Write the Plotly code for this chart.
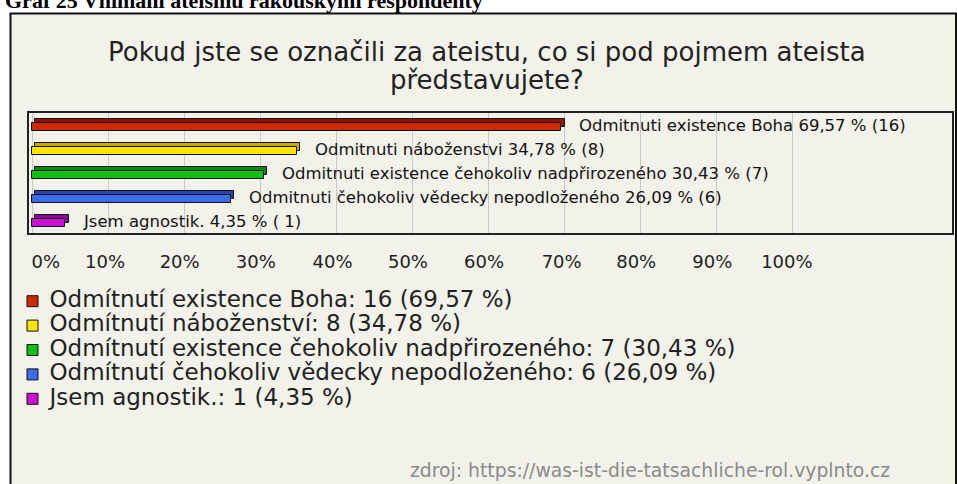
import plotly.graph_objects as go

W, H = 957, 484

categories = ["boha", "nabozenstvi", "nadprirozeneho", "vedecky", "agnostik"]
values = [69.57, 34.78, 30.43, 26.09, 4.35]
counts = [16, 8, 7, 6, 1]
bar_labels = [
    "Odmitnuti existence Boha 69,57 % (16)",
    "Odmitnuti náboženstvi 34,78 % (8)",
    "Odmitnuti existence čehokoliv nadpřirozeného 30,43 % (7)",
    "Odmitnuti čehokoliv vědecky nepodloženého 26,09 % (6)",
    "Jsem agnostik. 4,35 % ( 1)",
]
legend_names = [
    "Odmítnutí existence Boha: 16 (69,57 %)",
    "Odmítnutí náboženství: 8 (34,78 %)",
    "Odmítnutí existence čehokoliv nadpřirozeného: 7 (30,43 %)",
    "Odmítnutí čehokoliv vědecky nepodloženého: 6 (26,09 %)",
    "Jsem agnostik.: 1 (4,35 %)",
]
front_colors = ["#d02800", "#ffe400", "#10c010", "#3c6cee", "#cc10d4"]
top_colors = ["#8a1800", "#c8ac00", "#088a08", "#2446a8", "#880a90"]
grid_vals = [0, 10, 20, 30, 40, 50, 60, 70, 80, 90, 100]
tick_texts = ["0%", "10%", "20%", "30%", "40%", "50%", "60%", "70%", "80%", "90%", "100%"]
tick_label_pos = [1.8, 9.6, 19.4, 29.4, 39.5, 49.4, 59.4, 69.6, 79.4, 89.4, 99.2]

title_lines = ["Pokud jste se označili za ateistu, co si pod pojmem ateista", "představujete?"]
heading = "Graf 25 Vnímání ateismu rakouskými respondenty"
source = "zdroj: https://was-ist-die-tatsachliche-rol.vyplnto.cz"

FONT = "DejaVu Sans, Verdana, Arial"

def px(x):
    return x / W

def py(y):
    return 1 - y / H

fig = go.Figure()

# 3D top faces (back bars)
for i, c in enumerate(categories):
    fig.add_trace(go.Bar(
        y=[c], x=[values[i]], base=0.45, orientation="h",
        width=0.34, offset=-0.25,
        marker=dict(color=top_colors[i], line=dict(color="#111", width=1)),
        showlegend=False, hoverinfo="skip", xaxis="x", yaxis="y",
    ))
# front faces
for i, c in enumerate(categories):
    fig.add_trace(go.Bar(
        y=[c], x=[values[i]], orientation="h",
        width=0.34, offset=-0.09,
        marker=dict(color=front_colors[i], line=dict(color="#111", width=1)),
        name=legend_names[i], showlegend=False, xaxis="x", yaxis="y",
    ))

# label axis (tick labels only)
fig.add_trace(go.Scatter(x=[None], y=[None], xaxis="x2", yaxis="y", showlegend=False, hoverinfo="skip"))

# legend drawn as rows (square + text)
rows = list(range(len(categories)))
fig.add_trace(go.Scatter(
    x=[0] * len(rows), y=rows, mode="markers", xaxis="x3", yaxis="y3",
    marker=dict(symbol="square", size=11, color=front_colors, line=dict(color="#111", width=1)),
    showlegend=False, hoverinfo="skip", cliponaxis=False,
))
fig.add_trace(go.Scatter(
    x=[1.7] * len(rows), y=rows, mode="text", text=legend_names, textposition="middle right",
    textfont=dict(family=FONT, size=23, color="#222"), xaxis="x3", yaxis="y3",
    showlegend=False, hoverinfo="skip", cliponaxis=False,
))

annotations = []
for i, c in enumerate(categories):
    annotations.append(dict(
        x=values[i], y=c, xref="x", yref="y", text=bar_labels[i], showarrow=False,
        xanchor="left", yanchor="middle", xshift=16, yshift=0,
        font=dict(family=FONT, size=16.5, color="#111"),
    ))
annotations.append(dict(
    x=px(487), y=py(52), xref="paper", yref="paper", text=title_lines[0], showarrow=False,
    xanchor="center", yanchor="middle", font=dict(family=FONT, size=26, color="#222"),
))
annotations.append(dict(
    x=px(487), y=py(80), xref="paper", yref="paper", text=title_lines[1], showarrow=False,
    xanchor="center", yanchor="middle", font=dict(family=FONT, size=26, color="#222"),
))
annotations.append(dict(
    x=px(3), y=py(0), xref="paper", yref="paper", text="<b>" + heading + "</b>", showarrow=False,
    xanchor="left", yanchor="middle", font=dict(family="Liberation Serif, Times New Roman", size=22, color="#000"),
))
annotations.append(dict(
    x=px(892), y=py(470), xref="paper", yref="paper", text=source, showarrow=False,
    xanchor="right", yanchor="middle", font=dict(family=FONT, size=18.8, color="#8a8a8a"),
))

xr = [-0.4, 120.9]
fig.update_layout(
    width=W, height=H,
    margin=dict(l=0, r=0, t=0, b=0),
    paper_bgcolor="white",
    plot_bgcolor="white",
    barmode="overlay",
    bargap=0,
    showlegend=False,
    shapes=[dict(type="rect", xref="paper", yref="paper", x0=px(10.5), x1=px(956), y0=-0.05, y1=py(13.5),
                 fillcolor="#f3f2ea", line=dict(color="#111", width=2), layer="below")],
    xaxis=dict(domain=[px(29), px(952)], range=xr, tickvals=grid_vals, showticklabels=False,
               showgrid=True, gridcolor="#c8c8c8", gridwidth=1, zeroline=False,
               showline=True, mirror=True, linecolor="#222", linewidth=1.5, ticks="", anchor="y"),
    xaxis2=dict(domain=[px(29), px(952)], range=xr, overlaying="x", anchor="y", side="bottom",
                tickvals=tick_label_pos, ticktext=tick_texts, showgrid=False, zeroline=False,
                showline=False, ticks="", ticklabelstandoff=16,
                tickfont=dict(family=FONT, size=18, color="#222")),
    yaxis=dict(domain=[py(233), py(113)], categoryorder="array", categoryarray=categories,
               autorange="reversed", showticklabels=False, showgrid=False, zeroline=False,
               showline=True, mirror=True, linecolor="#222", linewidth=1.5, ticks=""),
    xaxis3=dict(domain=[px(27), px(127)], range=[-0.55, 9.45], visible=False, anchor="y3"),
    yaxis3=dict(domain=[py(411), py(289)], range=[4.5, -0.5], visible=False, anchor="x3"),
    annotations=annotations,
)

fig.write_html("out.html", config={"displayModeBar": False},
               post_script="document.body.style.margin='0';document.body.style.overflow='hidden';")
